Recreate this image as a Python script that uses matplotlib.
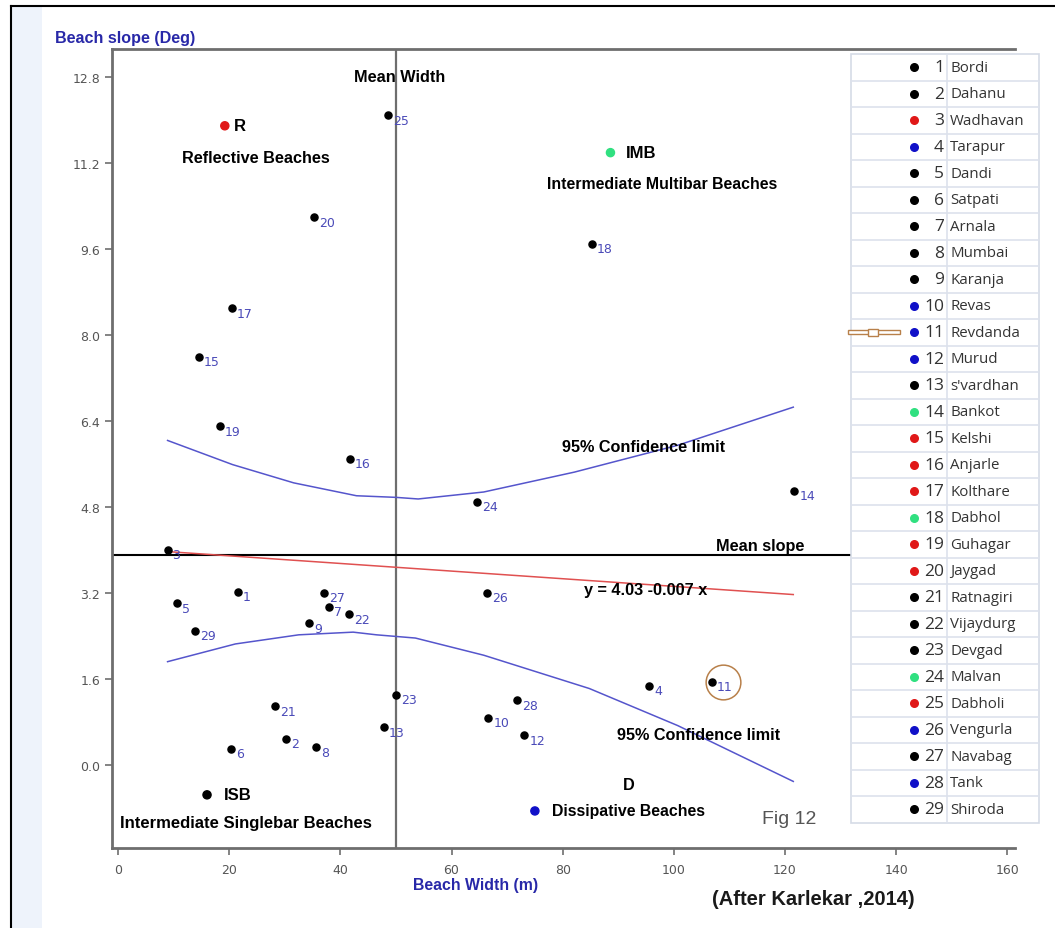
import matplotlib
matplotlib.use("Agg")
import matplotlib.pyplot as plt
from matplotlib.patches import Rectangle
from matplotlib.transforms import offset_copy

# ---------------- data ----------------
beach_ids = list(range(1, 30))
beach_names = ["Bordi", "Dahanu", "Wadhavan", "Tarapur", "Dandi", "Satpati", "Arnala",
               "Mumbai", "Karanja", "Revas", "Revdanda", "Murud", "s'vardhan", "Bankot",
               "Kelshi", "Anjarle", "Kolthare", "Dabhol", "Guhagar", "Jaygad", "Ratnagiri",
               "Vijaydurg", "Devgad", "Malvan", "Dabholi", "Vengurla", "Navabag", "Tank",
               "Shiroda"]
beach_width = [21.6, 30.3, 8.9, 95.6, 10.6, 20.4, 37.9, 35.7, 34.4, 66.6,
               106.9, 73.1, 47.8, 121.7, 14.5, 41.7, 20.5, 85.3, 18.3, 35.2,
               28.3, 41.6, 50.0, 64.6, 48.6, 66.4, 37.0, 71.8, 13.9]
beach_slope = [3.22, 0.48, 4.00, 1.47, 3.01, 0.30, 2.94, 0.33, 2.64, 0.88,
               1.55, 0.55, 0.70, 5.10, 7.60, 5.70, 8.50, 9.70, 6.30, 10.20,
               1.09, 2.80, 1.30, 4.90, 12.10, 3.20, 3.20, 1.20, 2.50]
# beach type per station (legend marker): B=black, R=red, U=blue, G=green
beach_type = ["B", "B", "R", "U", "B", "B", "B", "B", "B", "U",
              "U", "U", "B", "G", "R", "R", "R", "G", "R", "R",
              "B", "B", "B", "G", "R", "U", "B", "U", "B"]
highlight_id = 11

# beach-state reference points
state_labels = ["R", "IMB", "ISB", "D"]
state_width = [19.2, 88.6, 16.0, 75.0]
state_slope = [11.9, 11.4, -0.56, -0.86]
state_type = ["R", "G", "B", "U"]

# regression line and 95% confidence limits
reg_x = [8.9, 121.5]
reg_y = [3.97, 3.17]
upper_x = [8.9, 20.6, 31.6, 42.9, 50.0, 54.0, 65.8, 82.1, 100.7, 121.5]
upper_y = [6.04, 5.59, 5.25, 5.01, 4.98, 4.95, 5.08, 5.45, 5.95, 6.66]
lower_x = [8.9, 21.1, 32.5, 42.3, 46.5, 53.5, 65.8, 84.8, 100.7, 121.5]
lower_y = [1.92, 2.25, 2.42, 2.47, 2.42, 2.36, 2.04, 1.42, 0.73, -0.31]
mean_width = 50.0
mean_slope = 3.90
mean_slope_end = 132

x_ticks = [0, 20, 40, 60, 80, 100, 120, 140, 160]
y_ticks = [0.0, 1.6, 3.2, 4.8, 6.4, 8.0, 9.6, 11.2, 12.8]

# ---------------- style ----------------
type_colors = {"B": "#000000", "R": "#e01818", "U": "#1010c8", "G": "#30e080"}
W, H = 1055, 929
narrow = ["Liberation Sans", "DejaVu Sans"]
lbl_color = "#4a4ab8"

fig = plt.figure(figsize=(W / 100, H / 100), dpi=100)
fig.patch.set_facecolor("white")

def px_axes(z):
    a = fig.add_axes([0, 0, 1, 1], zorder=z)
    a.set_xlim(0, W)
    a.set_ylim(H, 0)
    a.axis("off")
    a.patch.set_alpha(0)
    return a

bg = px_axes(0)
bg.add_patch(Rectangle((12, 8), 30, H, facecolor="#eef3fb", edgecolor="none"))
bg.plot([11, W], [7, 7], color="black", lw=1.5)
bg.plot([11, 11], [7, H], color="black", lw=1.5)

# main axes, in pixel geometry
left, right, top, bottom = 112, 1015, 50, 849
ax = fig.add_axes([left / W, 1 - bottom / H, (right - left) / W, (bottom - top) / H], zorder=1)
ax.set_facecolor("white")
ax.set_xlim(-1.1, 161.4)
ax.set_ylim(-1.55, 13.33)
for s in ["left", "bottom", "top"]:
    ax.spines[s].set_color("#6e6e6e")
    ax.spines[s].set_linewidth(2)
ax.spines["right"].set_visible(False)
ax.set_xticks(x_ticks)
ax.set_xticklabels([str(v) for v in x_ticks])
ax.set_yticks(y_ticks)
ax.set_yticklabels([f"{v:.1f}" for v in y_ticks])
ax.tick_params(axis="both", colors="#6e6e6e", labelcolor="#555555", labelsize=9,
               length=5, width=1.2, direction="out")
ax.tick_params(axis="x", pad=6)

ax.axvline(mean_width, color="#6e6e6e", lw=1.6, zorder=2)
ax.plot([-1.1, mean_slope_end], [mean_slope, mean_slope], color="black", lw=1.5, zorder=2)
ax.plot(reg_x, reg_y, color="#e05050", lw=1.1, zorder=3)
ax.plot(upper_x, upper_y, color="#5555cc", lw=1.1, zorder=3)
ax.plot(lower_x, lower_y, color="#5555cc", lw=1.1, zorder=3)

ax.scatter(beach_width, beach_slope, s=26, color="black", zorder=5)
for i, x, y in zip(beach_ids, beach_width, beach_slope):
    ax.annotate(str(i), (x, y), xytext=(5, -5), textcoords="offset pixels",
                fontsize=9, color=lbl_color, ha="left", va="center", zorder=6)

# circle round the highlighted station
hi = beach_ids.index(highlight_id)
ax.plot([beach_width[hi]], [beach_slope[hi]], marker="o", markersize=25,
        markerfacecolor="none", markeredgecolor="#b8804a", markeredgewidth=1.1,
        transform=offset_copy(ax.transData, fig=fig, x=11, y=0, units="dots"), zorder=4)

ax.scatter(state_width, state_slope, s=34,
           color=[type_colors[t] for t in state_type], zorder=5)
state_off = {"R": 9, "IMB": 15, "ISB": 17}
for lab, x, y in zip(state_labels, state_width, state_slope):
    if lab not in state_off:
        continue
    ax.annotate(lab, (x, y), xytext=(state_off[lab], 0), textcoords="offset pixels",
                fontsize=12, fontweight="bold", family=narrow, ha="left", va="center")

ov = px_axes(3)

def t(x, y, s, size=11.7, ha="center", color="black", bold=True, fam=None):
    ov.text(x, y, s, fontsize=size, ha=ha, va="center", color=color,
            fontweight="bold" if bold else "normal", family=fam or narrow)

t(400, 77, "Mean Width")
t(256, 158, "Reflective Beaches")
t(662, 184, "Intermediate Multibar Beaches", size=11.4)
t(644, 447, "95% Confidence limit")
t(760, 547, "Mean slope")
t(646, 590, "y = 4.03 -0.007 x")
t(699, 736, "95% Confidence limit")
t(629, 786, "D")
t(552, 812, "Dissipative Beaches", ha="left", size=11.4)
t(246, 824, "Intermediate Singlebar Beaches", size=12)
t(125, 38, "Beach slope (Deg)", size=11.6, color="#2828a8")
t(476, 886, "Beach Width (m)", size=11.4, color="#2828a8")
t(789, 820, "Fig 12", size=14, color="#555555", bold=False)
t(813, 900, "(After Karlekar ,2014)", size=14.5, color="#1a1a1a")

# ---------------- legend table ----------------
lx0, lx1, ldiv = 851, 1039, 947
ly0, row_h = 55, 26.5
n = len(beach_ids)
ov.add_patch(Rectangle((lx0, ly0), lx1 - lx0, row_h * n, facecolor="white",
                       edgecolor="#d5dbe6", lw=1.2, zorder=1))
for k in range(1, n):
    ov.plot([lx0, lx1], [ly0 + k * row_h] * 2, color="#dde2ec", lw=1.2, zorder=2)
ov.plot([ldiv, ldiv], [ly0, ly0 + row_h * n], color="#dde2ec", lw=1.2, zorder=2)
leg_font = ["Open Sans", "DejaVu Sans"]
for k, (i, name, typ) in enumerate(zip(beach_ids, beach_names, beach_type)):
    yc = ly0 + (k + 0.5) * row_h
    ov.scatter([914], [yc], s=30, color=type_colors[typ], zorder=3)
    ov.text(944, yc, str(i), fontsize=12.5, ha="right", va="center", color="#333333",
            family=leg_font, zorder=3)
    ov.text(950, yc, name, fontsize=10.8, ha="left", va="center", color="#333333",
            family=leg_font, zorder=3)

# pointer arrow at the highlighted station row
ay = ly0 + (hi + 0.5) * row_h
ov.add_patch(Rectangle((848, ay - 2), 52, 4, facecolor="white", edgecolor="#b8804a", lw=1, zorder=4))
ov.add_patch(Rectangle((868, ay - 3.5), 10, 7, facecolor="white", edgecolor="#b8804a", lw=1, zorder=5))

fig.savefig("out.png", dpi=100)
